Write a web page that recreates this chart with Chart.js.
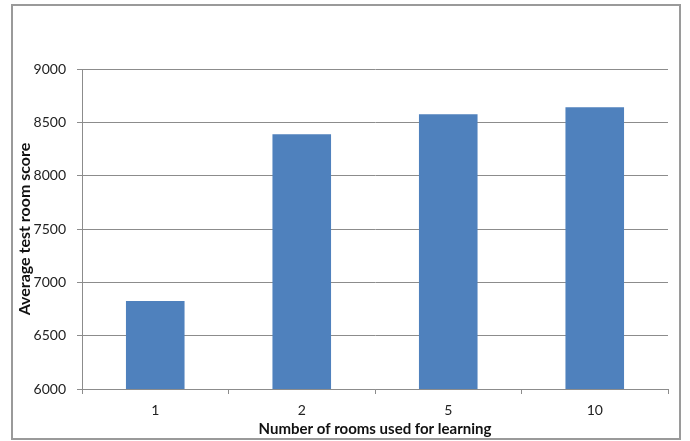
<!DOCTYPE html>
<html>
<head>
<meta charset="utf-8">
<script src="https://cdn.jsdelivr.net/npm/chart.js@4/dist/chart.umd.min.js"></script>
<style>
  html, body { margin: 0; padding: 0; background: #fff; }
  #wrap { position: relative; width: 690px; height: 441px; }
</style>
</head>
<body>
<div id="wrap"><canvas id="chart" width="690" height="441"></canvas></div>
<script>
// Rooms used for learning and the average score reached in the test room
const roomCounts = ['1', '2', '5', '10'];
const avgScores = [6825, 8388, 8576, 8642];
const scoreTicks = [6000, 6500, 7000, 7500, 8000, 8500, 9000];

const FONT = 'Lato, "Open Sans", "Liberation Sans", sans-serif';
const GRID = '#8c8c8c';

// Thin grey frame around the whole figure
const framePlugin = {
  id: 'frame',
  afterDraw(chart) {
    const ctx = chart.ctx;
    ctx.save();
    ctx.strokeStyle = '#9a9a9a';
    ctx.lineWidth = 2;
    ctx.strokeRect(12, 5, 668, 434);
    ctx.restore();
  }
};

new Chart(document.getElementById('chart'), {
  type: 'bar',
  data: {
    labels: roomCounts,
    datasets: [{
      data: avgScores,
      backgroundColor: '#4f81bd',
      borderWidth: 0,
      barPercentage: 0.4,
      categoryPercentage: 1.0
    }]
  },
  options: {
    responsive: false,
    animation: false,
    layout: { padding: { top: 69, right: 22, bottom: 0, left: 0 } },
    plugins: { legend: { display: false }, tooltip: { enabled: false } },
    scales: {
      x: {
        grid: { offset: true, drawOnChartArea: false, color: GRID, tickLength: 5, lineWidth: 1 },
        border: { color: GRID, width: 1 },
        ticks: { color: '#222', padding: 8, font: { family: FONT, size: 14 } },
        title: {
          display: true,
          text: 'Number of rooms used for learning',
          color: '#111',
          font: { family: FONT, size: 15, weight: 'bold' },
          padding: { top: 0, bottom: 3 }
        },
        afterFit(scale) { scale.height = 52; }
      },
      y: {
        min: 6000,
        max: 9000,
        afterBuildTicks(scale) { scale.ticks = scoreTicks.map(v => ({ value: v })); },
        grid: { color: GRID, tickLength: 5, lineWidth: 1 },
        border: { color: GRID, width: 1 },
        ticks: {
          color: '#222',
          padding: 11,
          font: { family: FONT, size: 14 },
          callback: v => String(v)
        },
        title: {
          display: true,
          text: 'Average test room score',
          color: '#111',
          font: { family: FONT, size: 16, weight: 'bold' },
          padding: { top: 15, bottom: 0 }
        },
        afterFit(scale) { scale.width = 82; }
      }
    }
  },
  plugins: [framePlugin]
});
</script>
</body>
</html>
